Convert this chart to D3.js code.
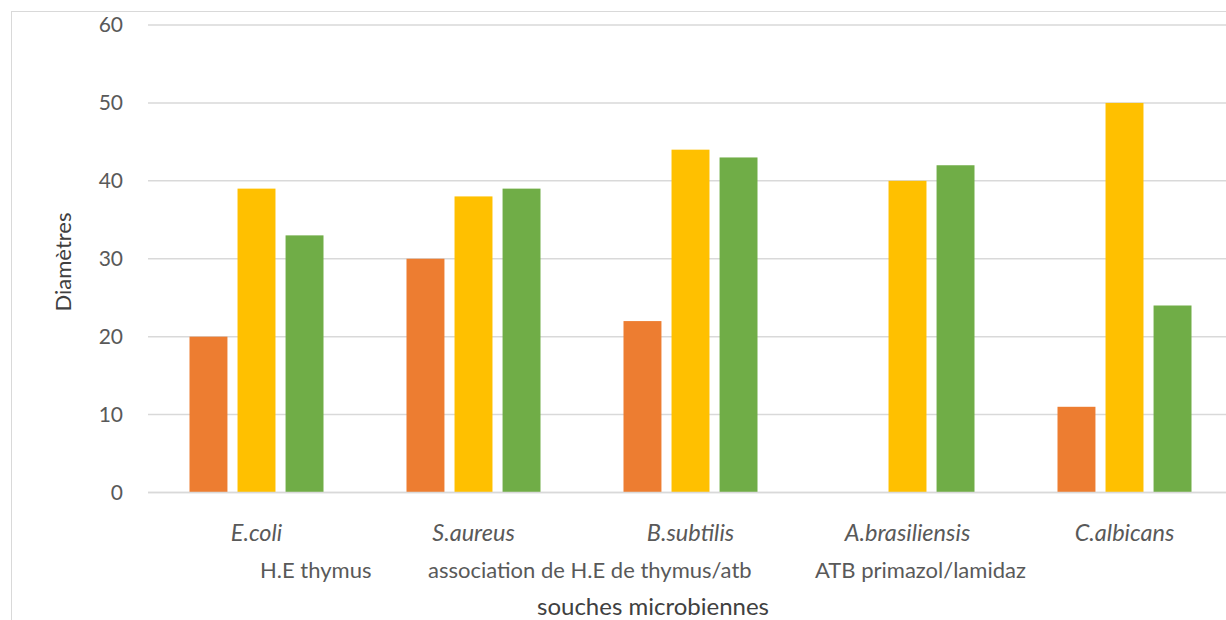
<!DOCTYPE html>
<html>
<head>
<meta charset="utf-8">
<script src="https://cdn.jsdelivr.net/npm/d3@7"></script>
<style>
  html, body { margin: 0; padding: 0; background: #fff; }
  svg { display: block; font-family: Lato, "Open Sans", sans-serif; }
</style>
</head>
<body>
<svg id="chart" width="1226" height="620"></svg>
<script>
// Strains along the x axis
const categories = ["E.coli", "S.aureus", "B.subtilis", "A.brasiliensis", "C.albicans"];
// Series names (legend)
const seriesNames = ["H.E thymus", "association de H.E de thymus/atb", "ATB primazol/lamidaz"];
// Inhibition diameters per series, one value per strain
const heThymus = [20, 30, 22, 0, 11];
const association = [39, 38, 44, 40, 50];
const atb = [33, 39, 43, 42, 24];
const yTicks = [0, 10, 20, 30, 40, 50, 60];

const seriesValues = [heThymus, association, atb];
const colors = ["#ED7D31", "#FFC000", "#70AD47"];

const svg = d3.select("#chart");

// Outer chart border
svg.append("rect")
  .attr("x", 11.5).attr("y", 11.5)
  .attr("width", 1240).attr("height", 640)
  .attr("fill", "none").attr("stroke", "#d9d9d9").attr("stroke-width", 1);

const plot = { left: 148, right: 1233, top: 25, bottom: 492.5 };

const x = d3.scaleBand().domain(categories).range([plot.left, plot.right]).paddingInner(0).paddingOuter(0);
const xs = d3.scaleBand().domain(d3.range(seriesNames.length)).range([41.5, x.bandwidth() - 41.5]).paddingInner(0.21);
const y = d3.scaleLinear().domain([0, 60]).range([plot.bottom, plot.top]);

// Horizontal gridlines
svg.append("g").selectAll("line").data(yTicks).join("line")
  .attr("x1", plot.left).attr("x2", plot.right)
  .attr("y1", d => y(d)).attr("y2", d => y(d))
  .attr("stroke", "#d9d9d9").attr("stroke-width", 1.5);

// Y axis labels
const yAxis = d3.axisLeft(y).tickValues(yTicks).tickSize(0).tickPadding(0);
const gy = svg.append("g").attr("transform", `translate(123,0)`).call(yAxis);
gy.select(".domain").remove();
gy.selectAll("text").attr("font-size", 21).attr("fill", "#595959").attr("font-family", "Lato, sans-serif");

// Bars
categories.forEach((c, ci) => {
  seriesValues.forEach((vals, si) => {
    const v = vals[ci];
    svg.append("rect")
      .attr("x", x(c) + xs(si))
      .attr("y", y(v))
      .attr("width", xs.bandwidth())
      .attr("height", y(0) - y(v))
      .attr("fill", colors[si]);
  });
});

// Zero baseline
svg.append("line")
  .attr("x1", plot.left).attr("x2", plot.right)
  .attr("y1", y(0)).attr("y2", y(0))
  .attr("stroke", "#d9d9d9").attr("stroke-width", 1.5);

// Category labels (italic)
const xAxis = d3.axisBottom(x).tickSize(0).tickPadding(0);
const gx = svg.append("g").attr("transform", `translate(0,541)`).call(xAxis);
gx.select(".domain").remove();
gx.selectAll("text")
  .attr("dy", 0)
  .attr("font-size", 23.5).attr("font-style", "italic")
  .attr("fill", "#595959").attr("font-family", "Lato, sans-serif");

// Legend (text entries)
const legendX = [260, 428, 815];
svg.append("g").selectAll("text").data(seriesNames).join("text")
  .attr("x", (d, i) => legendX[i]).attr("y", 578)
  .attr("font-size", 22).attr("fill", "#595959")
  .text(d => d);

// Axis titles
svg.append("text")
  .attr("x", 653).attr("y", 615)
  .attr("text-anchor", "middle").attr("font-size", 24).attr("fill", "#404040")
  .text("souches microbiennes");

svg.append("text")
  .attr("transform", "translate(71,262) rotate(-90)")
  .attr("text-anchor", "middle").attr("font-size", 22).attr("fill", "#404040")
  .text("Diamètres");
</script>
</body>
</html>
